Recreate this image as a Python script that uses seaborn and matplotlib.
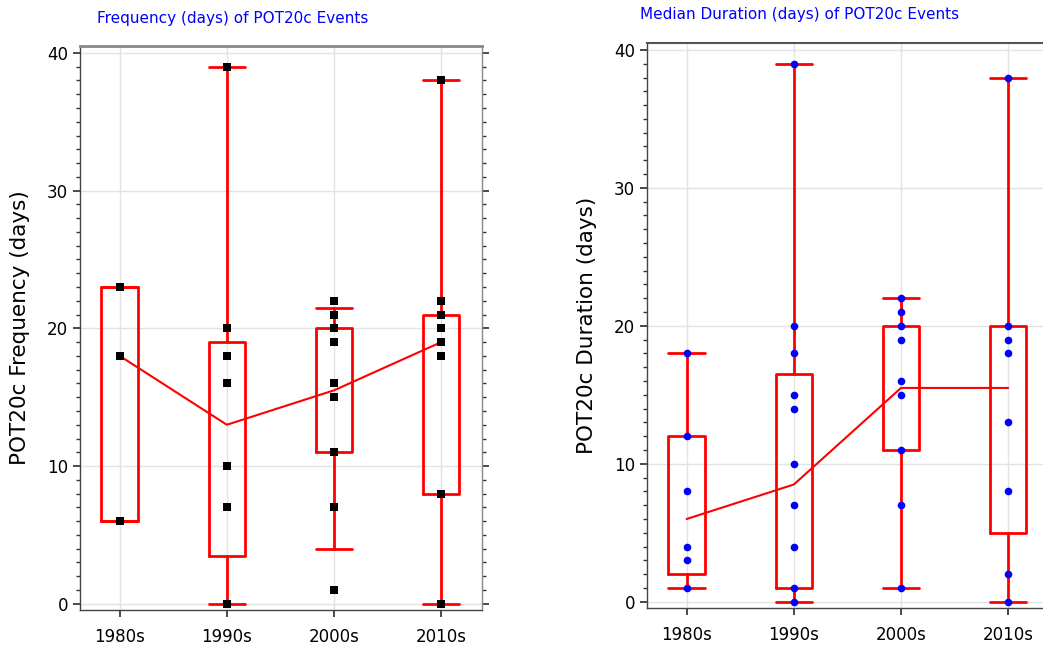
import matplotlib
matplotlib.use("Agg")
import matplotlib.pyplot as plt
from matplotlib.ticker import MultipleLocator
import numpy as np
import pandas as pd
import seaborn as sns

# categories
decades = ["1980s", "1990s", "2000s", "2010s"]

# frequency panel (days)
freq_points = {
    "1980s": [23, 18, 6],
    "1990s": [39, 20, 18, 16, 10, 7, 0],
    "2000s": [22, 21, 20, 19, 16, 15, 11, 7, 1],
    "2010s": [38, 22, 21, 20, 19, 18, 8, 0],
}
freq_box_lo = [6, 3.5, 11, 8]
freq_box_hi = [23, 19, 20, 21]
freq_whisk_lo = [6, 0, 4, 0]
freq_whisk_hi = [23, 39, 21.5, 38]
freq_median = [18, 13, 15.5, 19]

# duration panel (days)
dur_points = {
    "1980s": [18, 12, 8, 4, 3, 1],
    "1990s": [39, 20, 18, 15, 14, 10, 7, 4, 1, 0],
    "2000s": [22, 21, 20, 19, 16, 15, 11, 7, 1],
    "2010s": [38, 20, 19, 18, 13, 8, 2, 0],
}
dur_box_lo = [2, 1, 11, 5]
dur_box_hi = [12, 16.5, 20, 20]
dur_whisk_lo = [1, 0, 1, 0]
dur_whisk_hi = [18, 39, 22, 38]
dur_median = [6, 8.5, 15.5, 15.5]


def to_frame(points):
    rows = [(d, v) for d in decades for v in points[d]]
    return pd.DataFrame(rows, columns=["decade", "days"])


def draw_panel(ax, points, lo, hi, wlo, whi, med, marker, color, size, ylabel, right_ticks):
    stats = [
        dict(med=m, q1=a, q3=b, whislo=c, whishi=d, fliers=[])
        for a, b, c, d, m in zip(lo, hi, wlo, whi, med)
    ]
    red = dict(color="red", linewidth=2)
    ax.bxp(stats, positions=range(len(decades)), widths=0.34, showfliers=False,
           boxprops=red, whiskerprops=red, capprops=red,
           medianprops=dict(linewidth=0), capwidths=0.34, zorder=2)
    sns.lineplot(x=np.arange(len(decades)), y=med, color="red", linewidth=1.5,
                 ax=ax, zorder=3)
    sns.stripplot(data=to_frame(points), x="decade", y="days", order=decades,
                  jitter=False, marker=marker, color=color, size=size,
                  linewidth=0, ax=ax, zorder=4)
    ax.set_xlim(-0.37, 3.38)
    ax.set_ylim(-0.45, 40.5)
    ax.set_xticks(range(len(decades)))
    ax.set_xticklabels(decades)
    ax.yaxis.set_major_locator(MultipleLocator(10))
    ax.yaxis.set_minor_locator(MultipleLocator(1))
    ax.grid(True, which="major", color="#e3e3e3", linewidth=1)
    ax.set_axisbelow(True)
    ax.tick_params(axis="both", which="major", labelsize=12, length=5, color="#333",
                   labelcolor="black", direction="out", right=right_ticks,
                   left=True, bottom=True)
    ax.tick_params(axis="x", which="major", pad=8)
    ax.tick_params(axis="y", which="minor", length=3, color="#333",
                   right=right_ticks, left=True)
    ax.set_xlabel("")
    ax.set_ylabel(ylabel, fontsize=15.5, color="black", labelpad=12)
    for s in ax.spines.values():
        s.set_visible(True)
        s.set_color("#444")
        s.set_linewidth(1)


sns.set_theme(style="white")
plt.rcParams["font.family"] = ["DejaVu Sans"]

fig = plt.figure(figsize=(10.43, 6.47), dpi=100)
ax1 = fig.add_axes([0.0767, 0.0572, 0.3854, 0.8717])
ax2 = fig.add_axes([0.6203, 0.0603, 0.3854, 0.8732])

draw_panel(ax1, freq_points, freq_box_lo, freq_box_hi, freq_whisk_lo, freq_whisk_hi,
           freq_median, "s", "black", 6, "POT20c Frequency (days)", True)
draw_panel(ax2, dur_points, dur_box_lo, dur_box_hi, dur_whisk_lo, dur_whisk_hi,
           dur_median, "o", "blue", 5.5, "POT20c Duration (days)", False)
ax1.spines["right"].set_color("#888")
ax1.spines["top"].set_color("#888")
ax1.spines["top"].set_linewidth(2)
ax2.spines["top"].set_color("#555")
ax2.spines["top"].set_linewidth(1.5)

fig.text(97 / 1043, 1 - 18 / 647, "Frequency (days) of POT20c Events",
         color="blue", fontsize=11, ha="left", va="center")
fig.text(640 / 1043, 1 - 14 / 647, "Median Duration (days) of POT20c Events",
         color="blue", fontsize=11, ha="left", va="center")

fig.savefig("out.png", dpi=100)
